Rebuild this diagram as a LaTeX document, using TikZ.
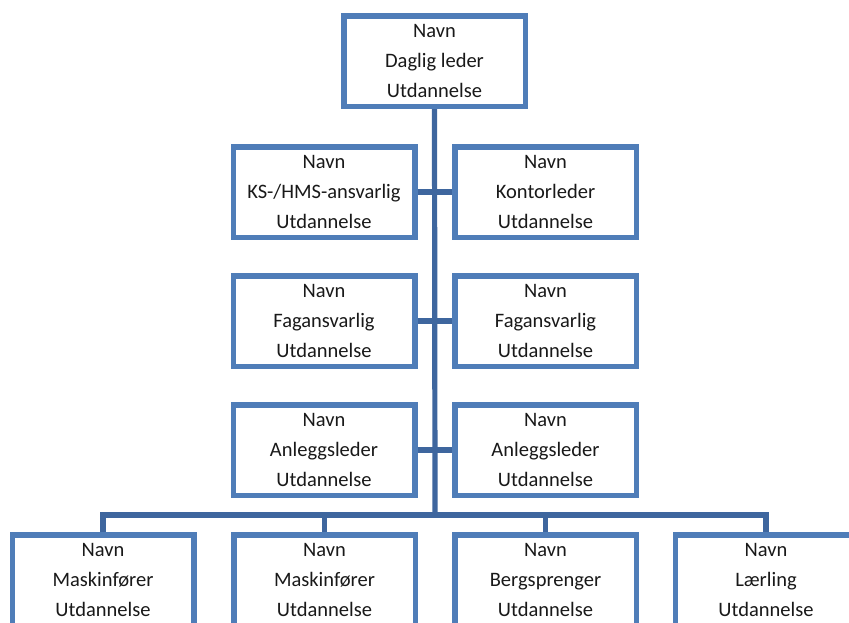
\documentclass[tikz,border=0pt]{standalone}
\usepackage{fontspec}
\setmainfont{Carlito}
\definecolor{boxblue}{HTML}{4F7DB8}
\definecolor{linkblue}{HTML}{3E669E}
\begin{document}
\begin{tikzpicture}[x=1pt,y=-1pt,
  orgbox/.style={draw=boxblue, line width=5.5pt, fill=white, rectangle,
    minimum width=181.5pt, minimum height=90.5pt, inner sep=0pt,
    align=center, font=\fontsize{20.5}{30}\selectfont, text=black!90},
  link/.style={draw=linkblue, line width=5.2pt}]
\useasboundingbox (0,0) rectangle (849,622);
\node[orgbox] (top) at (434.5,61) {Navn\\Daglig leder\\Utdannelse};
\node[orgbox] (a1) at (324,192) {Navn\\KS-/HMS-ansvarlig\\Utdannelse};
\node[orgbox] (a2) at (545.5,192) {Navn\\Kontorleder\\Utdannelse};
\node[orgbox] (f1) at (324,321) {Navn\\Fagansvarlig\\Utdannelse};
\node[orgbox] (f2) at (545.5,321) {Navn\\Fagansvarlig\\Utdannelse};
\node[orgbox] (l1) at (324,450) {Navn\\Anleggsleder\\Utdannelse};
\node[orgbox] (l2) at (545.5,450) {Navn\\Anleggsleder\\Utdannelse};
\node[orgbox] (b1) at (103,580) {Navn\\Maskinfører\\Utdannelse};
\node[orgbox] (b2) at (324.5,580) {Navn\\Maskinfører\\Utdannelse};
\node[orgbox] (b3) at (545.5,580) {Navn\\Bergsprenger\\Utdannelse};
\node[orgbox] (b4) at (766,580) {Navn\\Lærling\\Utdannelse};
\coordinate (j) at (435,515);
\draw[link] (top.south) -- (j);
\draw[link] (a1.east) -- (a2.west);
\draw[link] (f1.east) -- (f2.west);
\draw[link] (l1.east) -- (l2.west);
\draw[link] (b1.north) |- (b4.north |- j) -- (b4.north);
\draw[link] (b2.north) -- (b2.north |- j);
\draw[link] (b3.north) -- (b3.north |- j);
\end{tikzpicture}
\end{document}
